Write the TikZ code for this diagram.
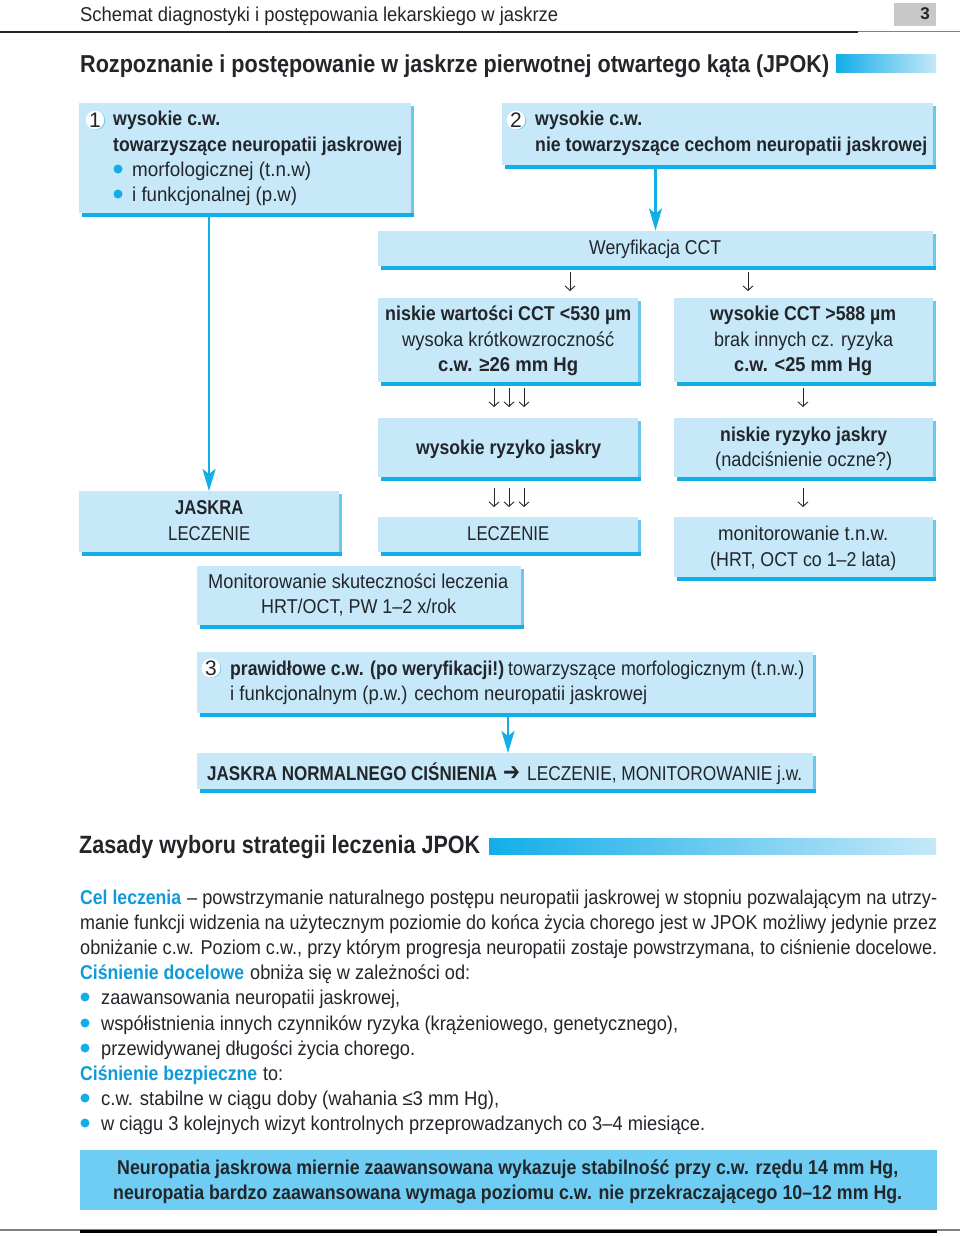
\documentclass[tikz,border=0pt]{standalone}
\usepackage{fontspec}
\usepackage{graphicx}
\setmainfont{Liberation Sans}
\newfontfamily\djv{DejaVu Sans}
\usetikzlibrary{arrows.meta}
\definecolor{boxfill}{HTML}{C6E8F8}
\definecolor{boxside}{HTML}{6CC6EE}
\definecolor{boxline}{HTML}{12AEE8}
\definecolor{inkdark}{HTML}{22262B}
\definecolor{headblue}{HTML}{0F9BD9}
\definecolor{noteblue}{HTML}{6FCDF4}
\definecolor{pagegray}{HTML}{C8C8C8}
\tikzset{
  boxbody/.style={fill=boxfill,draw=none,inner sep=0pt,anchor=north west},
  txt/.style={inner sep=0pt,anchor=base west,text=inkdark,font=\fontsize{20}{24}\selectfont},
  flow/.style={draw=boxline,line width=2.4pt,-{Stealth[length=22pt,width=13pt,inset=5pt]}},
  thinarrow/.style={draw=inkdark,line width=.9pt,-{Straight Barb[length=4.5pt,width=10pt]}},
  dot/.style={circle,fill=boxline,draw=none,minimum size=9pt,inner sep=0pt},
}
% name, x1, y1, x2, y2 of the pale face
\newcommand\bx[5]{%
  \fill[boxside] (#2+3,#3+3) rectangle (#4+3,#5+4);
  \fill[boxline] (#2+3,#5) rectangle (#4+3,#5+4);
  \pgfmathsetmacro\bw{#4-#2}\pgfmathsetmacro\bh{#5-#3}
  \node[boxbody,minimum width=\bw pt,minimum height=\bh pt] (#1) at (#2,#3) {};
}
% name, x1, x2, mid y, font switches, text
\newcommand\tl[6]{%
  \pgfmathsetmacro\tw{#3-#2}\pgfmathsetmacro\ty{#4+7}
  \node[txt] (#1) at (#2,\ty) {\resizebox{\tw pt}{\height}{#5#6}};
}
\newcommand\num[4]{%
  \fill[boxside] (#2+1.2,#3+.6) circle (9pt);
  \node[circle,fill=white,minimum size=17.5pt,inner sep=0pt,text=inkdark,font=\fontsize{21}{24}\selectfont] (#1) at (#2,#3) {#4};
}
\begin{document}
\begin{tikzpicture}[x=1pt,y=-1pt]
\useasboundingbox (0,0) rectangle (960,1236);
\fill[white] (0,0) rectangle (960,1236);
% page head
\tl{head}{80}{558}{15}{}{Schemat diagnostyki i postępowania lekarskiego w jaskrze}
\fill[inkdark] (0,31) rectangle (858,33.5);
\fill[gray] (858,31.5) rectangle (960,32.5);
\node[fill=pagegray,minimum width=42pt,minimum height=23pt,inner sep=0pt,anchor=north west] (pg) at (894,3) {};
\node[txt,anchor=base,font=\fontsize{17}{20}\bfseries] (pgn) at (925,20) {3};
% title
\node[txt,font=\fontsize{24.5}{28}\bfseries,anchor=base west] (title) at (80,72.5) {\resizebox{749pt}{\height}{Rozpoznanie i postępowanie w jaskrze pierwotnej otwartego kąta (JPOK)}};
\shade[left color=boxline,right color=boxfill] (836,55) rectangle (936,73);
% boxes
\bx{bA}{79}{103}{411}{213}
\bx{bB}{502}{103}{933}{164.5}
\bx{ver}{378}{230.5}{933}{266}
\bx{lo}{378}{298}{638}{382}
\bx{hi}{674}{298}{933}{382}
\bx{rh}{378}{418}{638}{477}
\bx{rl}{674}{418}{933}{477}
\bx{ja}{79}{491}{339}{552}
\bx{le}{378}{517}{638}{552}
\bx{mo}{674}{517}{933}{577}
\bx{ms}{197}{566}{521}{625}
\bx{bC}{197}{652}{813}{713}
\bx{jn}{197}{753}{813}{789}
% flow arrows
\coordinate (pA) at (209,300);
\coordinate (pB) at (655.5,200);
\coordinate (pC) at (508,730);
\draw[flow] (pA |- 0,217) -- (pA |- ja.north);
\draw[flow] (pB |- 0,168) -- (pB |- ver.north);
\draw[flow] (pC |- 0,717) -- (pC |- jn.north);
% thin arrows
\foreach \ax/\from/\to/\sa/\sb in {570/ver/lo/6/7,748/ver/hi/6/7,494/lo/rh/6/11,509/lo/rh/6/11,524/lo/rh/6/11,803/hi/rl/6/11,494/rh/le/11/10,509/rh/le/11/10,524/rh/le/11/10,803/rl/mo/11/10}{
  \coordinate (ax) at (\ax,0);
  \draw[thinarrow,shorten <=\sa pt,shorten >=\sb pt] (ax |- \from.south) -- (ax |- \to.north);
}
% box 1
\num{nA}{95}{120}{1}
\tl{a1}{113}{220}{119}{\bfseries}{wysokie c.w.}
\tl{a2}{113}{402}{144}{\bfseries}{towarzyszące neuropatii jaskrowej}
\node[dot] (da) at (118,169) {};
\tl{a3}{132}{311}{169}{}{morfologicznej (t.n.w)}
\node[dot] (db) at (118,194) {};
\tl{a4}{132}{297}{194}{}{i funkcjonalnej (p.w)}
% box 2
\num{nB}{516}{120}{2}
\tl{b1}{535}{642}{119}{\bfseries}{wysokie c.w.}
\tl{b2}{535}{927}{144}{\bfseries}{nie towarzyszące cechom neuropatii jaskrowej}
\tl{v1}{589}{721}{247}{}{Weryfikacja CCT}
\tl{l1}{385}{631}{313}{\bfseries}{niskie wartości CCT <530 µm}
\tl{l2}{402}{614}{339}{}{wysoka krótkowzroczność}
\tl{l3}{438}{578}{364}{\bfseries}{c.w. ≥26 mm Hg}
\tl{h1}{710}{896}{313}{\bfseries}{wysokie CCT >588 µm}
\tl{h2}{714}{893}{339}{}{brak innych cz. ryzyka}
\tl{h3}{734}{872}{364}{\bfseries}{c.w. <25 mm Hg}
\tl{r1}{416}{601}{447}{\bfseries}{wysokie ryzyko jaskry}
\tl{r2}{720}{887}{434}{\bfseries}{niskie ryzyko jaskry}
\tl{r3}{715}{892}{459}{}{(nadciśnienie oczne?)}
\tl{j1}{175}{243}{507}{\bfseries}{JASKRA}
\tl{j2}{168}{250}{533}{}{LECZENIE}
\tl{e1}{467}{549}{533}{}{LECZENIE}
\tl{m1}{718}{888}{533}{}{monitorowanie t.n.w.}
\tl{m2}{710}{896}{559}{}{(HRT, OCT co 1–2 lata)}
\tl{s1}{208}{508}{581}{}{Monitorowanie skuteczności leczenia}
\tl{s2}{261}{456}{606}{}{HRT/OCT, PW 1–2 x/rok}
% box 3
\num{nC}{211}{668}{3}
\tl{c1}{230}{504}{668}{\bfseries}{prawidłowe c.w. (po weryfikacji!)}
\tl{c2}{508}{804}{668}{}{towarzyszące morfologicznym (t.n.w.)}
\tl{c3}{230}{647}{693}{}{i funkcjonalnym (p.w.) cechom neuropatii jaskrowej}
\tl{n1}{207}{497}{773}{\bfseries}{JASKRA NORMALNEGO CIŚNIENIA}
\tl{n2}{503}{520}{773}{\djv\fontsize{25}{25}\selectfont}{➔}
\tl{n3}{527}{802}{773}{}{LECZENIE, MONITOROWANIE j.w.}
% section 2 heading
\node[txt,font=\fontsize{25}{28}\bfseries,anchor=base west] (zas) at (79,853.5) {\resizebox{401pt}{\height}{Zasady wyboru strategii leczenia JPOK}};
\shade[left color=boxline,right color=boxfill] (489,838) rectangle (936,854);
% body text
\tl{p1a}{80}{181}{897}{\bfseries\color{headblue}}{Cel leczenia}
\tl{p1b}{187}{937}{897}{}{– powstrzymanie naturalnego postępu neuropatii jaskrowej w stopniu pozwalającym na utrzy-}
\tl{p2}{80}{937}{922}{}{manie funkcji widzenia na użytecznym poziomie do końca życia chorego jest w JPOK możliwy jedynie przez}
\tl{p3}{80}{937}{947}{}{obniżanie c.w. Poziom c.w., przy którym progresja neuropatii zostaje powstrzymana, to ciśnienie docelowe.}
\tl{p4a}{80}{244}{972}{\bfseries\color{headblue}}{Ciśnienie docelowe}
\tl{p4b}{250}{470}{972}{}{obniża się w zależności od:}
\node[dot] (d5) at (85,997) {};
\tl{p5}{101}{400}{997}{}{zaawansowania neuropatii jaskrowej,}
\node[dot] (d6) at (85,1023) {};
\tl{p6}{101}{678}{1023}{}{współistnienia innych czynników ryzyka (krążeniowego, genetycznego),}
\node[dot] (d7) at (85,1048) {};
\tl{p7}{101}{415}{1048}{}{przewidywanej długości życia chorego.}
\tl{p8a}{80}{257}{1073}{\bfseries\color{headblue}}{Ciśnienie bezpieczne}
\tl{p8b}{263}{283}{1073}{}{to:}
\node[dot] (d9) at (85,1098) {};
\tl{p9}{101}{499}{1098}{}{c.w. stabilne w ciągu doby (wahania ≤3 mm Hg),}
\node[dot] (d10) at (85,1123) {};
\tl{p10}{101}{705}{1123}{}{w ciągu 3 kolejnych wizyt kontrolnych przeprowadzanych co 3–4 miesiące.}
% note
\node[fill=noteblue,minimum width=857pt,minimum height=60pt,inner sep=0pt,anchor=north west] (note) at (80,1150) {};
\tl{t1}{117}{898}{1167}{\bfseries}{Neuropatia jaskrowa miernie zaawansowana wykazuje stabilność przy c.w. rzędu 14 mm Hg,}
\tl{t2}{113}{902}{1192}{\bfseries}{neuropatia bardzo zaawansowana wymaga poziomu c.w. nie przekraczającego 10–12 mm Hg.}
% foot
\fill[gray] (0,1229) rectangle (960,1231);
\fill[black] (80,1229.5) rectangle (937,1233);
\end{tikzpicture}
\end{document}
